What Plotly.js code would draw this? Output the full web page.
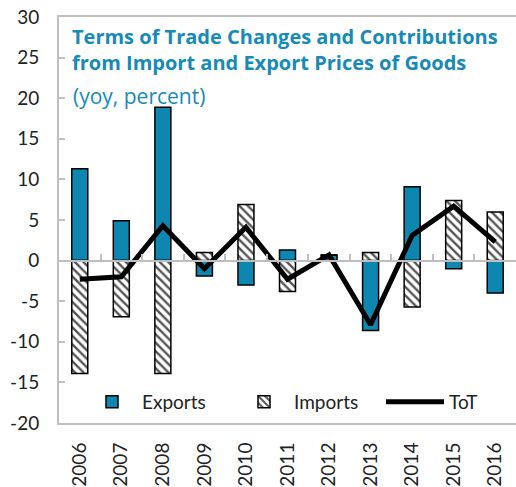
<!DOCTYPE html>
<html>
<head>
<meta charset="utf-8">
<script src="https://cdn.plot.ly/plotly-3.0.1.min.js"></script>
<style>html,body{margin:0;padding:0;background:#fff}#chart{width:516px;height:487px}</style>
</head>
<body>
<div id="chart"></div>
<script>
var years = ['2006','2007','2008','2009','2010','2011','2012','2013','2014','2015','2016'];
var exportsVals = [11.3, 4.9, 18.9, -1.9, -3.0, 1.3, 0.7, -8.6, 9.1, -1.0, -4.0];
var importsVals = [-13.9, -6.9, -13.9, 1.0, 6.9, -3.8, 0.0, 1.0, -5.7, 7.4, 6.0];
var totVals = [-2.3, -2.0, 4.3, -1.0, 4.1, -2.3, 0.7, -7.9, 3.1, 6.7, 2.3];
var yTicks = [-20, -15, -10, -5, 0, 5, 10, 15, 20, 25, 30];

var BLUE = '#0d87b0';
var TEAL = '#168ab8';
var GRID = '#bfbfbf';
var FONT = 'Lato, "Open Sans", sans-serif';
var TFONT = '"Open Sans", Lato, sans-serif';

var traces = [
  {type:'bar', name:'Exports', x:years, y:exportsVals, legend:'legend',
   marker:{color:BLUE, line:{color:'#000', width:1.5}}},
  {type:'bar', name:'Imports', x:years, y:importsVals, legend:'legend2',
   marker:{color:'#fff', line:{color:'#000', width:1.5},
     pattern:{shape:'\\', fgcolor:'#555', bgcolor:'#fff', size:6, solidity:0.4}}},
  {type:'scatter', mode:'lines', name:'ToT', x:years, y:totVals, xaxis:'x2', legend:'legend3',
   line:{color:'#000', width:5}}
];

function legendAt(px, iw) {
  return {orientation:'h', x:(px-59)/457, y:(423-402)/406, xanchor:'left', yanchor:'middle',
    bgcolor:'rgba(0,0,0,0)', font:{family:FONT, size:19, color:'#222'}, itemwidth:iw};
}

var layout = {
  width:516, height:487,
  margin:{l:59, r:0, t:17, b:64},
  paper_bgcolor:'#fff', plot_bgcolor:'#fff',
  font:{family:FONT, size:19, color:'#222'},
  barmode:'relative', bargap:0.615,
  showlegend:true,
  title:{text:'<b>Terms of Trade Changes and Contributions</b><br><b>from Import and Export Prices of Goods</b>',
    font:{family:TFONT, size:20, color:TEAL}, x:72/516, xanchor:'left', xref:'container',
    y:1-44/487, yanchor:'top', yref:'container'},
  annotations:[{text:'(yoy, percent)', xref:'paper', yref:'paper', x:(71-59)/457, y:(423-96)/406,
    xanchor:'left', yanchor:'middle', showarrow:false, font:{family:TFONT, size:21, color:TEAL}}],
  legend:legendAt(82, 50),
  legend2:legendAt(234, 50),
  legend3:legendAt(381, 58),
  xaxis:{type:'category', categoryarray:years, range:[-0.5,10.5], showline:true, mirror:true,
    linecolor:GRID, linewidth:2, ticks:'', tickangle:-90, ticklabelstandoff:10,
    tickfont:{family:FONT, size:19, color:'#222'}, showgrid:false, zeroline:false, fixedrange:true},
  xaxis2:{type:'category', categoryarray:years, range:[-0.5,10.5], overlaying:'x', anchor:'free',
    position:0.4, side:'bottom', showline:true, linecolor:GRID, linewidth:2, ticks:'inside',
    tickson:'boundaries', ticklen:6, tickwidth:2, tickcolor:GRID, showticklabels:false,
    showgrid:false, zeroline:false},
  yaxis:{range:[-20,30], tickvals:yTicks, ticktext:yTicks.map(String), showline:true, linecolor:GRID,
    linewidth:2, ticks:'inside', ticklen:6, tickwidth:2, tickcolor:GRID, showgrid:false, zeroline:false,
    ticklabelstandoff:14, tickfont:{family:FONT, size:19, color:'#222'}}
};

Plotly.newPlot('chart', traces, layout, {displayModeBar:false, staticPlot:true});
</script>
</body>
</html>
